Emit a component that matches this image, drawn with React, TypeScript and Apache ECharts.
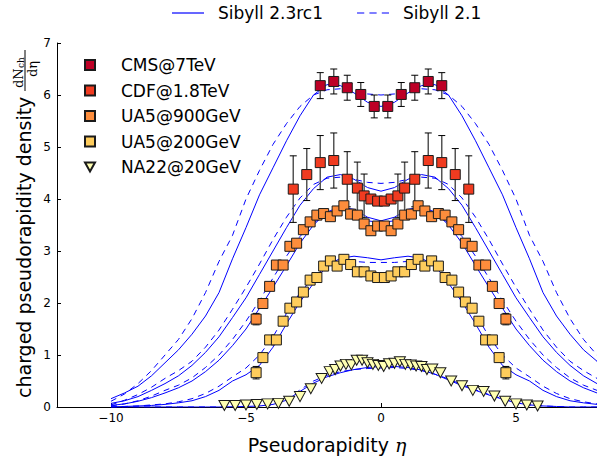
import React, { useEffect, useRef } from 'react';
import * as echarts from 'echarts';

// ---------- measured data ----------
const cmsEta = [-2.25, -1.75, -1.25, -0.75, -0.25, 0.25, 0.75, 1.25, 1.75, 2.25];
const cmsVal = [6.18, 6.26, 6.14, 6.01, 5.78, 5.78, 6.01, 6.14, 6.26, 6.18];
const cmsErr = [0.25, 0.24, 0.24, 0.23, 0.22, 0.22, 0.23, 0.24, 0.24, 0.25];

const cdfEta = [-3.25, -2.75, -2.25, -1.75, -1.25, -0.875, -0.625, -0.375, -0.125, 0.125, 0.375, 0.625, 0.875, 1.25, 1.75, 2.25, 2.75, 3.25];
const cdfVal = [4.19, 4.47, 4.70, 4.74, 4.38, 4.21, 4.06, 4.00, 3.96, 3.96, 4.00, 4.06, 4.21, 4.38, 4.74, 4.70, 4.47, 4.19];
const cdfErr = [0.64, 0.50, 0.52, 0.53, 0.53, 0.50, 0.42, 0.08, 0.06, 0.06, 0.08, 0.42, 0.50, 0.53, 0.53, 0.52, 0.50, 0.64];

const ua5Eta = [-4.625, -4.375, -4.125, -3.875, -3.625, -3.375, -3.125, -2.875, -2.625, -2.375, -2.125, -1.875, -1.625, -1.375, -1.125, -0.875, -0.625, -0.375, -0.125,
  0.125, 0.375, 0.625, 0.875, 1.125, 1.375, 1.625, 1.875, 2.125, 2.375, 2.625, 2.875, 3.125, 3.375, 3.625, 3.875, 4.125, 4.375, 4.625];
const ua5900Val = [1.69, 1.99, 2.32, 2.73, 2.73, 3.09, 3.15, 3.41, 3.56, 3.69, 3.72, 3.66, 3.77, 3.87, 3.71, 3.69, 3.52, 3.39, 3.48,
  3.48, 3.39, 3.52, 3.69, 3.71, 3.87, 3.77, 3.66, 3.72, 3.69, 3.56, 3.41, 3.15, 3.09, 2.73, 2.73, 2.32, 1.99, 1.69];
const ua5900Err = [0.11, 0.06, 0.04, 0.03, 0.03, 0.03, 0.03, 0.03, 0.03, 0.03, 0.03, 0.03, 0.03, 0.03, 0.03, 0.03, 0.03, 0.03, 0.03,
  0.03, 0.03, 0.03, 0.03, 0.03, 0.03, 0.03, 0.03, 0.03, 0.03, 0.03, 0.03, 0.03, 0.03, 0.03, 0.03, 0.04, 0.06, 0.11];
const ua5200Val = [0.66, 0.95, 1.29, 1.29, 1.65, 1.90, 2.02, 2.21, 2.44, 2.49, 2.71, 2.81, 2.71, 2.84, 2.74, 2.60, 2.60, 2.52, 2.49,
  2.49, 2.52, 2.60, 2.60, 2.74, 2.84, 2.71, 2.81, 2.71, 2.49, 2.44, 2.21, 2.02, 1.90, 1.65, 1.29, 1.29, 0.95, 0.66];
const ua5200Err = [0.12, 0.05, 0.04, 0.03, 0.03, 0.03, 0.03, 0.03, 0.03, 0.03, 0.03, 0.03, 0.03, 0.03, 0.03, 0.03, 0.03, 0.03, 0.03,
  0.03, 0.03, 0.03, 0.03, 0.03, 0.03, 0.03, 0.03, 0.03, 0.03, 0.03, 0.03, 0.03, 0.03, 0.03, 0.03, 0.04, 0.05, 0.12];

const na22Eta = [-5.8, -5.4, -5.0, -4.6, -4.2, -3.8, -3.4, -3.0, -2.6, -2.2, -1.9, -1.7, -1.5, -1.3, -1.1, -0.9, -0.7, -0.5, -0.3, -0.1,
  0.1, 0.3, 0.5, 0.7, 0.9, 1.1, 1.3, 1.5, 1.7, 1.9, 2.2, 2.6, 3.0, 3.4, 3.8, 4.2, 4.6, 5.0, 5.4, 5.8];
const na22Val = [0.03, 0.03, 0.04, 0.05, 0.06, 0.07, 0.11, 0.20, 0.35, 0.55, 0.68, 0.72, 0.79, 0.82, 0.81, 0.90, 0.90, 0.85, 0.82, 0.80,
  0.78, 0.83, 0.84, 0.87, 0.82, 0.81, 0.79, 0.78, 0.72, 0.73, 0.66, 0.50, 0.41, 0.32, 0.30, 0.21, 0.11, 0.06, 0.04, 0.02];

// simulation curves (Sibyll), sampled on etaGrid
const etaGrid = [-10, -9.5, -9, -8.5, -8, -7.5, -7, -6.5, -6, -5.5, -5, -4.5, -4, -3.5, -3, -2.5, -2, -1.5, -1, -0.5, 0,
  0.5, 1, 1.5, 2, 2.5, 3, 3.5, 4, 4.5, 5, 5.5, 6, 6.5, 7, 7.5, 8, 8.5, 9, 9.5, 10];

const sib23_7TeV = [0.16, 0.27, 0.4, 0.6, 0.85, 1.1, 1.4, 1.75, 2.2, 2.85, 3.45, 4.08, 4.6, 5.12, 5.6, 6.0, 6.2, 6.18, 6.04, 5.86, 5.78,
  5.86, 6.04, 6.18, 6.2, 6.0, 5.6, 5.12, 4.6, 4.08, 3.45, 2.85, 2.2, 1.75, 1.4, 1.1, 0.88, 0.6, 0.4, 0.27, 0.16];
const sib21_7TeV = [0.11, 0.25, 0.45, 0.7, 1.0, 1.3, 1.7, 2.2, 2.8, 3.3, 4.0, 4.55, 5.05, 5.45, 5.78, 6.0, 6.1, 6.12, 6.08, 6.02, 6.0,
  6.02, 6.08, 6.12, 6.1, 6.0, 5.78, 5.45, 5.05, 4.55, 4.0, 3.3, 2.8, 2.2, 1.7, 1.3, 1.0, 0.7, 0.45, 0.25, 0.11];
const sib23_18TeV = [0.07, 0.12, 0.2, 0.32, 0.45, 0.6, 0.8, 1.05, 1.35, 1.72, 2.1, 2.55, 3.0, 3.45, 3.88, 4.2, 4.42, 4.47, 4.38, 4.22, 4.15,
  4.22, 4.38, 4.47, 4.42, 4.2, 3.88, 3.45, 3.0, 2.55, 2.1, 1.72, 1.35, 1.05, 0.8, 0.6, 0.45, 0.32, 0.2, 0.12, 0.07];
const sib21_18TeV = [0.04, 0.13, 0.24, 0.38, 0.55, 0.7, 0.88, 1.15, 1.48, 1.88, 2.3, 2.75, 3.22, 3.65, 4.02, 4.28, 4.4, 4.42, 4.38, 4.32, 4.3,
  4.32, 4.38, 4.42, 4.4, 4.28, 4.02, 3.65, 3.22, 2.75, 2.3, 1.88, 1.48, 1.15, 0.88, 0.7, 0.55, 0.38, 0.24, 0.13, 0.04];
const sib23_900 = [0.03, 0.06, 0.11, 0.18, 0.27, 0.37, 0.5, 0.68, 0.9, 1.18, 1.5, 1.9, 2.3, 2.72, 3.15, 3.5, 3.75, 3.85, 3.8, 3.65, 3.58,
  3.65, 3.8, 3.85, 3.75, 3.5, 3.15, 2.72, 2.3, 1.9, 1.5, 1.18, 0.9, 0.68, 0.5, 0.37, 0.27, 0.18, 0.11, 0.06, 0.03];
const sib21_900 = [0.02, 0.06, 0.12, 0.21, 0.32, 0.42, 0.56, 0.76, 1.0, 1.3, 1.65, 2.05, 2.48, 2.9, 3.28, 3.55, 3.68, 3.7, 3.65, 3.58, 3.55,
  3.58, 3.65, 3.7, 3.68, 3.55, 3.28, 2.9, 2.48, 2.05, 1.65, 1.3, 1.0, 0.76, 0.56, 0.42, 0.32, 0.21, 0.12, 0.06, 0.02];
const sib23_200 = [0, 0.01, 0.02, 0.03, 0.05, 0.08, 0.12, 0.2, 0.32, 0.5, 0.62, 0.8, 1.15, 1.6, 2.02, 2.38, 2.72, 2.86, 2.9, 2.87, 2.83,
  2.87, 2.9, 2.86, 2.72, 2.38, 2.02, 1.6, 1.15, 0.8, 0.62, 0.5, 0.32, 0.2, 0.12, 0.08, 0.05, 0.03, 0.02, 0.01, 0];
const sib21_200 = [0, 0.01, 0.02, 0.04, 0.06, 0.1, 0.16, 0.26, 0.4, 0.58, 0.75, 1.0, 1.35, 1.8, 2.2, 2.48, 2.72, 2.8, 2.8, 2.78, 2.78,
  2.78, 2.8, 2.8, 2.72, 2.48, 2.2, 1.8, 1.35, 1.0, 0.75, 0.58, 0.4, 0.26, 0.16, 0.1, 0.06, 0.04, 0.02, 0.01, 0];
const sib23_20 = [0, 0, 0, 0, 0, 0, 0, 0, 0, 0.005, 0.01, 0.02, 0.05, 0.13, 0.3, 0.46, 0.58, 0.66, 0.72, 0.76, 0.78,
  0.78, 0.76, 0.71, 0.63, 0.52, 0.41, 0.32, 0.23, 0.15, 0.08, 0.04, 0.02, 0.01, 0, 0, 0, 0, 0, 0, 0];
const sib21_20 = [0, 0, 0, 0, 0, 0, 0, 0, 0, 0.005, 0.01, 0.02, 0.04, 0.12, 0.33, 0.5, 0.61, 0.68, 0.72, 0.74, 0.75,
  0.76, 0.74, 0.7, 0.63, 0.54, 0.43, 0.33, 0.24, 0.16, 0.09, 0.04, 0.02, 0.01, 0, 0, 0, 0, 0, 0, 0];

const xTicks = [-10, -5, 0, 5];

const SOLID = 'Sibyll 2.3rc1';
const DASHED = 'Sibyll 2.1';

const zip = (xs: number[], ys: number[]) => xs.map((x, i) => [x, ys[i]]);
const zip3 = (xs: number[], ys: number[], es: number[]) => xs.map((x, i) => [x, ys[i], es[i]]);

function errorBars(name: string, data: number[][]) {
  return {
    type: 'custom',
    name: name + '-err',
    z: 3,
    encode: { x: 0, y: 1 },
    data,
    clip: true,
    renderItem: (params: any, api: any) => {
      const x = api.value(0), y = api.value(1), e = api.value(2);
      const top = api.coord([x, y + e]);
      const bot = api.coord([x, y - e]);
      const hw = 3.5;
      return {
        type: 'group',
        children: [
          { type: 'line', shape: { x1: top[0], y1: top[1], x2: bot[0], y2: bot[1] }, style: { stroke: '#555', lineWidth: 1.5 } },
          { type: 'line', shape: { x1: top[0] - hw, y1: top[1], x2: top[0] + hw, y2: top[1] }, style: { stroke: '#000', lineWidth: 1 } },
          { type: 'line', shape: { x1: bot[0] - hw, y1: bot[1], x2: bot[0] + hw, y2: bot[1] }, style: { stroke: '#000', lineWidth: 1 } },
        ],
      };
    },
  };
}

function curve(name: string, vals: number[], dashed: boolean) {
  return {
    type: 'line',
    name,
    z: 2,
    data: zip(etaGrid, vals),
    symbol: 'none',
    showSymbol: false,
    smooth: false,
    clip: true,
    lineStyle: { color: '#0000ff', width: 1, type: dashed ? [6, 5] : 'solid' },
    itemStyle: { color: '#0000ff' },
  };
}

function scatter(name: string, data: number[][], color: string, symbol = 'rect', size: any = 10, rotate = 0) {
  return {
    type: 'scatter',
    name,
    z: 4,
    data,
    symbol,
    symbolSize: size,
    symbolRotate: rotate,
    itemStyle: { color, borderColor: '#1a1a1a', borderWidth: 1, opacity: 1 },
  };
}

export default function App() {
  const ref = useRef<HTMLDivElement>(null);
  useEffect(() => {
    document.body.style.margin = '0';
    const chart = echarts.init(ref.current!, null, { renderer: 'svg' });
    const fmt = (v: number) => (v < 0 ? '\u2212' + Math.abs(v) : String(v));
    const option: any = {
      animation: false,
      backgroundColor: '#ffffff',
      textStyle: { fontFamily: 'DejaVu Sans' },
      grid: { left: 57, right: 0, top: 43, bottom: 46, containLabel: false },
      xAxis: {
        type: 'value', min: -12, max: 8,
        name: 'Pseudorapidity {e|η}', nameLocation: 'middle', nameGap: 28,
        nameTextStyle: { fontSize: 19, color: '#000', fontFamily: 'DejaVu Sans',
          rich: { e: { fontSize: 19, fontFamily: 'DejaVu Serif', fontStyle: 'italic', color: '#000' } } },
        axisLine: { show: true, onZero: false, lineStyle: { color: '#000', width: 1 } },
        axisTick: { show: true, inside: true, length: 4, customValues: xTicks, lineStyle: { color: '#000' } },
        axisLabel: { customValues: xTicks, formatter: fmt, fontSize: 12, color: '#000', margin: 5, fontFamily: 'DejaVu Sans' },
        splitLine: { show: false },
      },
      yAxis: {
        type: 'value', min: 0, max: 7, interval: 1,
        axisLine: { show: true, onZero: false, lineStyle: { color: '#000', width: 1 } },
        axisTick: { show: true, inside: true, length: 4, lineStyle: { color: '#000' } },
        axisLabel: { fontSize: 12, color: '#000', margin: 6, fontFamily: 'DejaVu Sans' },
        splitLine: { show: false },
      },
      legend: [
        {
          data: [
            { name: SOLID, icon: 'path://M0,0H32V1.2H0Z' },
            { name: DASHED, icon: 'path://M0,0H7V1.2H0Z M12,0H19V1.2H12Z M24,0H31V1.2H24Z' },
          ],
          left: 172, top: 4, orient: 'horizontal', padding: 0,
          itemWidth: 32, itemHeight: 1.3, itemGap: 34,
          itemStyle: { color: '#0000ff', borderWidth: 0 },
          textStyle: { fontSize: 17, color: '#000', fontFamily: 'DejaVu Sans', padding: [0, 0, 0, 9], lineHeight: 18 },
          selectedMode: false,
        },
        {
          data: [
            { name: 'CMS@7TeV' }, { name: 'CDF@1.8TeV' }, { name: 'UA5@900GeV' }, { name: 'UA5@200GeV' },
            { name: 'NA22@20GeV', icon: 'path://M0,0L10,0L5,9Z' },
          ],
          left: 84, top: 56, orient: 'vertical', padding: 0,
          itemWidth: 10, itemHeight: 10, itemGap: 7.5,
          textStyle: { fontSize: 17, color: '#000', fontFamily: 'DejaVu Sans', lineHeight: 18, padding: [0, 0, 0, 21] },
          selectedMode: false,
        },
      ],
      graphic: [
        {
          type: 'group', x: 24, y: 398, rotation: Math.PI / 2,
          children: [
            { type: 'text', x: 0, y: 0, style: { text: 'charged pseudorapidity density', fontSize: 19, fontFamily: 'DejaVu Sans', fill: '#000', align: 'left', verticalAlign: 'middle' } },
            { type: 'text', x: 310, y: -6, style: { text: 'dN', fontSize: 13, fontFamily: 'DejaVu Serif', fill: '#000', align: 'left', verticalAlign: 'middle' } },
            { type: 'text', x: 330, y: -3, style: { text: 'ch', fontSize: 9, fontFamily: 'DejaVu Serif', fill: '#000', align: 'left', verticalAlign: 'middle' } },
            { type: 'line', shape: { x1: 307, y1: 1, x2: 348, y2: 1 }, style: { stroke: '#000', lineWidth: 1 } },
            { type: 'text', x: 329, y: 8, style: { text: 'dη', fontSize: 13, fontFamily: 'DejaVu Serif', fill: '#000', align: 'center', verticalAlign: 'middle' } },
          ],
        },
      ],
      series: [
        curve(SOLID, sib23_7TeV, false),
        curve(DASHED, sib21_7TeV, true),
        curve(SOLID, sib23_18TeV, false),
        curve(DASHED, sib21_18TeV, true),
        curve(SOLID, sib23_900, false),
        curve(DASHED, sib21_900, true),
        curve(SOLID, sib23_200, false),
        curve(DASHED, sib21_200, true),
        curve(SOLID, sib23_20, false),
        curve(DASHED, sib21_20, true),
        errorBars('CMS', zip3(cmsEta, cmsVal, cmsErr)),
        errorBars('CDF', zip3(cdfEta, cdfVal, cdfErr)),
        errorBars('UA5900', zip3(ua5Eta, ua5900Val, ua5900Err)),
        errorBars('UA5200', zip3(ua5Eta, ua5200Val, ua5200Err)),
        scatter('UA5@200GeV', zip(ua5Eta, ua5200Val), '#fecc5c'),
        scatter('UA5@900GeV', zip(ua5Eta, ua5900Val), '#fd8d3c'),
        scatter('CDF@1.8TeV', zip(cdfEta, cdfVal), '#f03b20'),
        scatter('CMS@7TeV', zip(cmsEta, cmsVal), '#bd0026'),
        scatter('NA22@20GeV', zip(na22Eta, na22Val), '#ffffb2', 'triangle', [11, 10], 180),
      ],
    };
    chart.setOption(option);
    return () => chart.dispose();
  }, []);
  return <div ref={ref} style={{ width: 597, height: 459 }} />;
}
